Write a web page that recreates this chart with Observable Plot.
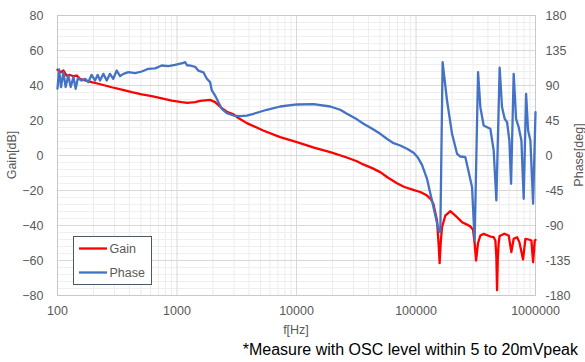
<!DOCTYPE html>
<html>
<head>
<meta charset="utf-8">
<script src="https://cdn.jsdelivr.net/npm/d3@7"></script>
<script src="https://cdn.jsdelivr.net/npm/@observablehq/plot@0.6"></script>
<style>
  html, body { margin: 0; padding: 0; background: #fff; }
  #chart { width: 585px; height: 362px; }
</style>
</head>
<body>
<div id="chart"></div>
<script>
// Open-loop response: gain [dB] and phase [deg] versus frequency [Hz]
const gainFreq = [100, 107, 112, 119, 127, 136, 145, 154, 170, 193, 220, 250, 284, 345, 418, 507, 615, 746, 904, 1097,
  1215, 1418, 1562, 1893, 2085, 2372, 2613, 2969, 3186, 3842, 5261, 7301, 10079, 14000, 19148, 26000, 32050, 36194,
  43000, 50230, 58000, 69340, 80000, 94930, 110000, 123650, 133000,
  139640, 149950, 155000, 157650, 161000, 165100, 176000, 193800, 213300, 242800, 267300, 285000, 300200, 309600, 318100,
  330600, 345600, 368300, 419100, 446700, 461500, 470400, 476800, 484000, 491800, 501200, 548900, 596500, 628100, 656800,
  701300, 732900, 787100, 823000, 877000, 924100, 954900, 984800, 1000000];
const gainDb = [49, 47.6, 48.6, 45.7, 46, 45.3, 45.7, 43.8, 42.9, 41.9, 41, 40, 39, 37.7, 36.2, 34.9, 33.9, 32.7, 31.4, 30.5,
  30.1, 30.5, 31.2, 31.8, 30.5, 27, 25, 23.5, 21.9, 18.5, 14.3, 10.5, 7.6, 4.5, 1.9, -1, -3.3, -5.1,
  -7.2, -9.5, -12.6, -15.8, -18, -19.6, -21, -22.9, -25,
  -27.6, -37.1, -52, -61.5, -50, -41, -34.3, -31.8, -34.3, -38.1, -39.5, -40.5, -42.5, -50, -60,
  -50, -45.7, -44.8, -46.3, -46.7, -48.6, -58, -77, -58, -50, -46, -44.7, -45.7, -55.2, -47.6,
  -46.7, -49.5, -59.4, -47.6, -48, -48.6, -61, -48.6, -48.2];

const phaseFreq = [100, 103, 107, 112, 117, 123, 129, 136, 142, 148, 159, 170, 181, 193, 206, 217, 227, 242, 258, 275,
  293, 313, 334, 356, 392, 446, 507, 576, 656, 746, 847, 964, 1131, 1169, 1215, 1287, 1418, 1511, 1663, 1777,
  1893, 1956, 2085, 2222, 2372, 2613, 2969, 3378, 3842, 4365, 5649, 7301, 10079, 13880, 19148, 23227, 26430, 32050, 36390,
  43000, 50230, 57000, 64930, 73870, 84060, 95500, 104000, 112280, 123650, 130020, 136140, 145200, 154640, 159770,
  167000, 181820, 200250, 220500, 235000, 258800,
  275700, 294400, 309600, 330600, 345600, 368300, 393200, 419100, 446700, 470400, 501200, 524800, 552100, 578100,
  604600, 624700, 656800, 687900, 723300, 762100, 796500, 834300, 867000, 906400, 954900, 1000000];
const phaseDeg = [86, 110.6, 87.8, 107, 88, 102.9, 88, 100.7, 85.8, 99.4, 96.4, 98.6, 94.3, 103.7, 96.4, 103.7, 96.4, 105, 96.4, 105,
  98.6, 109.3, 102, 105, 107.1, 106, 108, 111.5, 112, 115.7, 115, 116.6, 119.2, 120, 116, 115.7, 114, 109, 107, 98.6,
  94.3, 83.6, 77.1, 68.5, 60, 54.4, 51.4, 50.5, 51.4, 53.6, 58.8, 63, 65.6, 66, 63, 58.8, 53.6, 46.5, 40.8,
  34.5, 27.9, 21.5, 15.8, 12.9, 8.6, 3.5, -3, -12, -30, -45, -58, -77, -96.4, -98.6,
  120, 70.7, 27.9, 2.2, -1.3, -2.2,
  -21, -40.7, -109, 107.1, 62.1, 38.6, 36.4, 34.3, 6.4, -57.8, 112.8, 62.1, 47.2, 42.9,
  19.3, -36.4, 105, 47.2, 36.4, 19.3, -55.7, 79.3, 32.1, 19.3, -62, 55.7];

// Axis ticks
const freqTicks = [100, 1000, 10000, 100000, 1000000];
const gainTicks = [-80, -60, -40, -20, 0, 20, 40, 60, 80];
const phaseTicks = [-180, -135, -90, -45, 0, 45, 90, 135, 180];

const gainRows = gainFreq.map((f, i) => ({f, v: gainDb[i]}));
const phaseRows = phaseFreq.map((f, i) => ({f, v: phaseDeg[i]}));

// Phase shares the gain scale: ±180° spans the same height as ±80 dB
const phaseToY = p => p * 80 / 180;
const yToPhase = y => Math.round(y * 180 / 80);

// Minor grid: 2..9 within each decade, and five steps per major gain interval
const minorFreq = d3.range(2, 6).flatMap(e => d3.range(2, 10).map(k => k * 10 ** e));
const minorGain = d3.range(-80, 81, 4).filter(v => v % 20 !== 0);

const RED = "#ff0000", BLUE = "#4472c4";
const font = "'Liberation Sans', Arial, sans-serif";

const chart = Plot.plot({
  width: 585,
  height: 362,
  marginTop: 15,
  marginBottom: 67,
  marginLeft: 57,
  marginRight: 50,
  style: {fontFamily: font, fontSize: "12.5px", color: "#595959", background: "#fff", overflow: "visible"},
  x: {type: "log", domain: [100, 1000000]},
  y: {domain: [-80, 80]},
  marks: [
    Plot.ruleX(minorFreq, {stroke: "#ececec", strokeWidth: 1}),
    Plot.ruleY(minorGain, {stroke: "#efefef", strokeWidth: 1}),
    Plot.ruleX(freqTicks, {stroke: "#d9d9d9", strokeWidth: 1}),
    Plot.ruleY(gainTicks, {stroke: "#d9d9d9", strokeWidth: 1}),
    Plot.frame({stroke: "#c9c9c9"}),
    Plot.axisX(freqTicks, {tickSize: 0, tickPadding: 11, tickFormat: d => String(d), label: null, fill: "#595959"}),
    Plot.axisY(gainTicks, {anchor: "left", tickSize: 0, tickPadding: 14, label: null, fill: "#595959"}),
    Plot.axisY(phaseTicks.map(phaseToY), {anchor: "right", tickSize: 0, tickPadding: 10, tickFormat: yToPhase, label: null, fill: "#595959"}),
    Plot.line(gainRows, {x: "f", y: "v", stroke: RED, strokeWidth: 2.3}),
    Plot.line(phaseRows, {x: "f", y: d => phaseToY(d.v), stroke: BLUE, strokeWidth: 2.3})
  ]
});

document.getElementById("chart").appendChild(chart);

// Axis titles, legend and footnote
const svg = d3.select(chart);
const addText = (parent, txt, x, y, opts = {}) => {
  const t = parent.append("text")
    .attr("x", x).attr("y", y)
    .attr("text-anchor", opts.anchor || "middle")
    .attr("dominant-baseline", "central")
    .attr("font-family", font)
    .attr("font-size", opts.size || "12.5px")
    .attr("fill", opts.fill || "#595959")
    .text(txt);
  if (opts.rotate) t.attr("transform", `rotate(${opts.rotate},${x},${y})`);
  return t;
};

addText(svg, "Gain[dB]", 12, 155, {rotate: -90});
addText(svg, "Phase[deg]", 579, 155, {rotate: -90});
addText(svg, "f[Hz]", 296, 330);
addText(svg, "*Measure with OSC level within 5 to 20mVpeak", 578, 349, {anchor: "end", size: "16px", fill: "#000"});

const legend = svg.append("g");
legend.append("rect")
  .attr("x", 73.5).attr("y", 236.5).attr("width", 78).attr("height", 48)
  .attr("fill", "#fff").attr("stroke", "#4d5866").attr("stroke-width", 1);
[["Gain", RED, 248.5], ["Phase", BLUE, 272.5]].forEach(([name, color, y]) => {
  legend.append("line").attr("x1", 79).attr("x2", 107).attr("y1", y).attr("y2", y)
    .attr("stroke", color).attr("stroke-width", 2.3);
  addText(legend, name, 109.5, y, {anchor: "start"});
});
</script>
</body>
</html>
